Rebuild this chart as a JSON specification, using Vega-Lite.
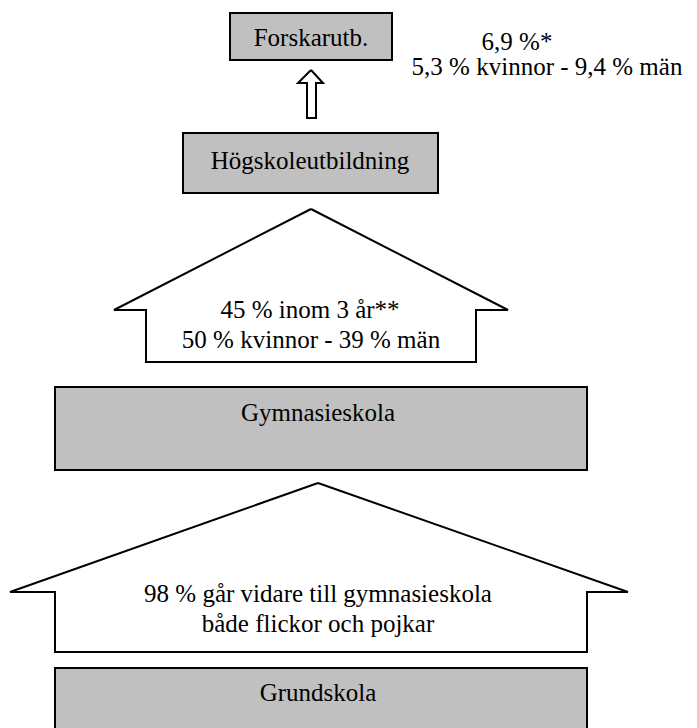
{
  "$schema": "https://vega.github.io/schema/vega-lite/v6.json",
  "width": 697,
  "height": 728,
  "padding": 0,
  "autosize": {"type": "none"},
  "background": "white",
  "config": {"view": {"stroke": null}, "font": "Liberation Serif", "text": {"font": "Liberation Serif"}},
  "datasets": {
    "boxes": [
      {"name": "Forskarutb.", "x1": 230, "x2": 392, "y1": 13, "y2": 60},
      {"name": "Högskoleutbildning", "x1": 183, "x2": 438, "y1": 133, "y2": 193},
      {"name": "Gymnasieskola", "x1": 55, "x2": 587, "y1": 387, "y2": 470},
      {"name": "Grundskola", "x1": 55, "x2": 587, "y1": 668, "y2": 745}
    ],
    "outlines": [
      {"shape": "small", "i": 0, "x": 311, "y": 70},
      {"shape": "small", "i": 1, "x": 323, "y": 83},
      {"shape": "small", "i": 2, "x": 316, "y": 83},
      {"shape": "small", "i": 3, "x": 316, "y": 118},
      {"shape": "small", "i": 4, "x": 307, "y": 118},
      {"shape": "small", "i": 5, "x": 307, "y": 83},
      {"shape": "small", "i": 6, "x": 298, "y": 83},
      {"shape": "small", "i": 7, "x": 311, "y": 70},
      {"shape": "a1", "i": 0, "x": 311, "y": 209},
      {"shape": "a1", "i": 1, "x": 508, "y": 310},
      {"shape": "a1", "i": 2, "x": 476, "y": 310},
      {"shape": "a1", "i": 3, "x": 476, "y": 362},
      {"shape": "a1", "i": 4, "x": 146, "y": 362},
      {"shape": "a1", "i": 5, "x": 146, "y": 310},
      {"shape": "a1", "i": 6, "x": 114, "y": 310},
      {"shape": "a1", "i": 7, "x": 311, "y": 209},
      {"shape": "a2", "i": 0, "x": 318, "y": 483},
      {"shape": "a2", "i": 1, "x": 628, "y": 592},
      {"shape": "a2", "i": 2, "x": 587, "y": 592},
      {"shape": "a2", "i": 3, "x": 587, "y": 652},
      {"shape": "a2", "i": 4, "x": 55, "y": 652},
      {"shape": "a2", "i": 5, "x": 55, "y": 592},
      {"shape": "a2", "i": 6, "x": 10, "y": 592},
      {"shape": "a2", "i": 7, "x": 318, "y": 483}
    ],
    "labels": [
      {"text": "Forskarutb.", "x": 311, "y": 38},
      {"text": "6,9 %*", "x": 517, "y": 42},
      {"text": "5,3 % kvinnor - 9,4 % män", "x": 547, "y": 67},
      {"text": "Högskoleutbildning", "x": 310, "y": 161},
      {"text": "45 % inom 3 år**", "x": 310, "y": 310},
      {"text": "50 % kvinnor - 39 % män", "x": 311, "y": 340},
      {"text": "Gymnasieskola", "x": 318, "y": 413},
      {"text": "98 % går vidare till gymnasieskola", "x": 318, "y": 594},
      {"text": "både flickor och pojkar", "x": 318, "y": 624},
      {"text": "Grundskola", "x": 318, "y": 693}
    ]
  },
  "layer": [
    {
      "data": {"name": "boxes"},
      "mark": {"type": "rect", "fill": "#c0c0c0", "stroke": "black", "strokeWidth": 2, "clip": true},
      "encoding": {
        "x": {"field": "x1", "type": "quantitative", "scale": {"domain": [0, 697], "nice": false, "zero": false}, "axis": null},
        "x2": {"field": "x2"},
        "y": {"field": "y1", "type": "quantitative", "scale": {"domain": [0, 728], "nice": false, "zero": false, "reverse": true}, "axis": null},
        "y2": {"field": "y2"}
      }
    },
    {
      "data": {"name": "outlines"},
      "mark": {"type": "line", "stroke": "black", "strokeWidth": 2, "strokeJoin": "miter", "interpolate": "linear"},
      "encoding": {
        "x": {"field": "x", "type": "quantitative", "scale": {"domain": [0, 697], "nice": false, "zero": false}, "axis": null},
        "y": {"field": "y", "type": "quantitative", "scale": {"domain": [0, 728], "nice": false, "zero": false, "reverse": true}, "axis": null},
        "detail": {"field": "shape", "type": "nominal"},
        "order": {"field": "i", "type": "quantitative"}
      }
    },
    {
      "data": {"name": "labels"},
      "mark": {"type": "text", "font": "Liberation Serif", "fontSize": 25, "fill": "black", "align": "center", "baseline": "middle"},
      "encoding": {
        "x": {"field": "x", "type": "quantitative", "scale": {"domain": [0, 697], "nice": false, "zero": false}, "axis": null},
        "y": {"field": "y", "type": "quantitative", "scale": {"domain": [0, 728], "nice": false, "zero": false, "reverse": true}, "axis": null},
        "text": {"field": "text", "type": "nominal"}
      }
    }
  ]
}
